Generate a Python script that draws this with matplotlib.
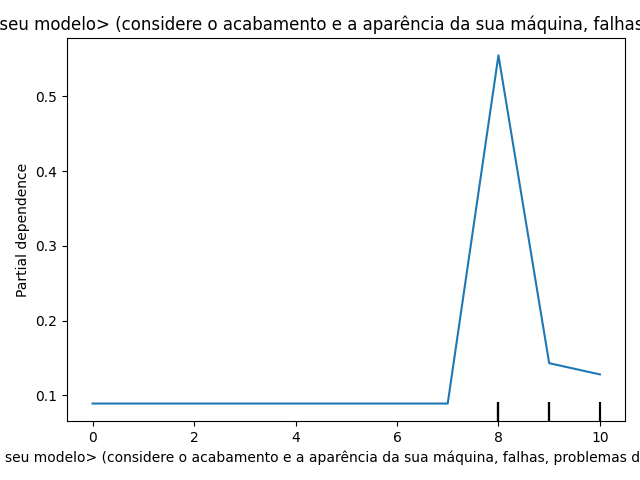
import numpy as np
import matplotlib
matplotlib.use("Agg")
import matplotlib.pyplot as plt
import matplotlib.transforms as mtransforms

# feature name (long survey question, cut off by the figure edges)
title_text = ("Qualidade do seu modelo> (considere o acabamento e a aparência da sua máquina, "
              "falhas, problemas de uso)")
xlabel_text = ("Qualidade do seu modelo> (considere o acabamento e a aparência da sua máquina, "
               "falhas, problemas de funcionamento etc")

# grid values and averaged partial dependence
grid = [0, 1, 2, 3, 4, 5, 6, 7, 8, 9, 10]
pd_values = [0.089, 0.089, 0.089, 0.089, 0.089, 0.089, 0.089, 0.089, 0.555, 0.143, 0.128]

# deciles of the feature (rug marks)
deciles = [8, 8, 8, 8, 9, 9, 9, 10, 10]

fig, ax = plt.subplots(figsize=(6.4, 4.8), dpi=100)
fig.subplots_adjust(left=0.105, right=0.977, top=0.921, bottom=0.123)

ax.plot(grid, pd_values, color="tab:blue")

# rug of deciles along the bottom of the axes
trans = mtransforms.blended_transform_factory(ax.transData, ax.transAxes)
ax.vlines(deciles, 0, 0.05, transform=trans, color="k")

ax.set_ylabel("Partial dependence")
ax.set_xlabel(xlabel_text)
ax.set_title(title_text)

fig.savefig("out.png")
